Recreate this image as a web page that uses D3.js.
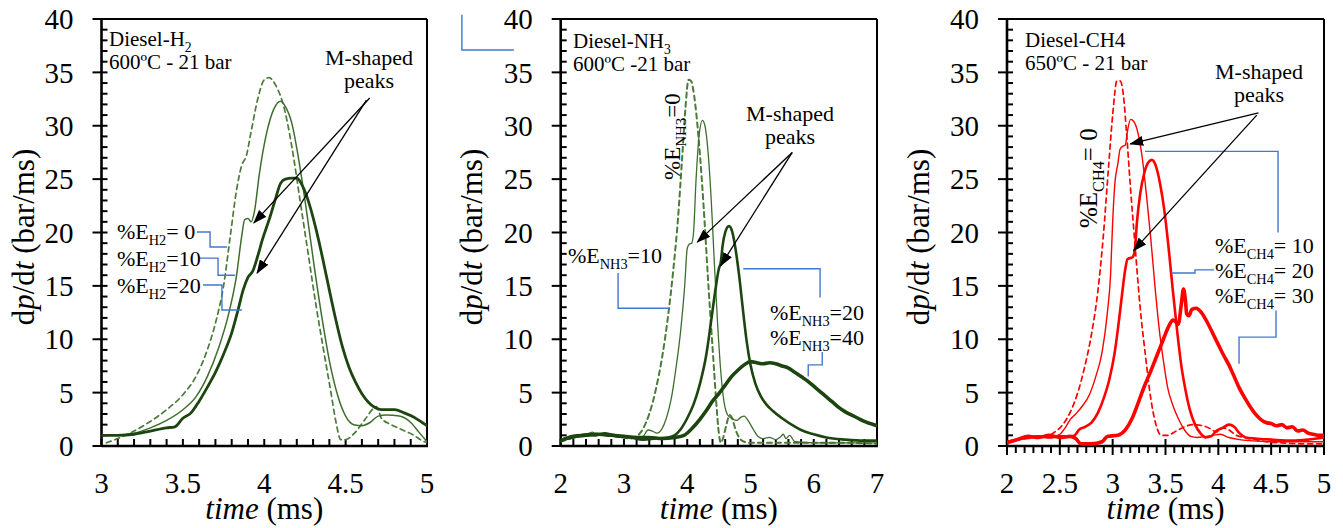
<!DOCTYPE html>
<html>
<head>
<meta charset="utf-8">
<script src="https://cdn.jsdelivr.net/npm/d3@7"></script>
<style>
  body { margin: 0; background: #fff; }
  svg { display: block; }
</style>
</head>
<body>
<svg id="chart" width="1343" height="528" font-family="Liberation Serif"></svg>
<script>
// ---------- axis ticks ----------
const yTicks = [0, 5, 10, 15, 20, 25, 30, 35, 40];
const h2Ticks = [3, 3.5, 4, 4.5, 5];
const nh3Ticks = [2, 3, 4, 5, 6, 7];
const ch4Ticks = [2, 2.5, 3, 3.5, 4, 4.5, 5];

// ---------- Diesel-H2, 600 ºC - 21 bar : [time (ms), dp/dt (bar/ms)] ----------
const h2E0 = [[3.03,0.3],[3.1,0.7],[3.2,1.4],[3.3,2.3],[3.4,3.4],[3.5,4.8],[3.58,6.5],[3.65,9.0],[3.7,11.5],[3.75,15],[3.79,19.5],[3.83,24],[3.86,26.2],[3.89,27.2],[3.92,29.5],[3.96,32.5],[4.0,34.3],[4.03,34.5],[4.07,33.8],[4.12,31.8],[4.17,28],[4.22,23],[4.27,18],[4.32,13],[4.37,8.5],[4.41,5],[4.44,2.3],[4.47,0.6],[4.5,0.6],[4.56,1.3],[4.62,2.5],[4.67,3.5],[4.69,3.7],[4.72,2.6],[4.78,2.0],[4.85,1.5],[4.92,1.0],[4.97,0.5],[5.0,0.3]];
const h2E10 = [[3.0,1.0],[3.1,1.0],[3.2,1.2],[3.3,1.7],[3.4,2.4],[3.5,3.4],[3.58,4.6],[3.65,6.5],[3.72,9.2],[3.78,12.3],[3.83,16],[3.86,19.5],[3.88,21.2],[3.9,21.3],[3.92,21.0],[3.94,22],[3.97,25.5],[4.01,29],[4.06,31.6],[4.1,32.3],[4.13,31.8],[4.17,30.2],[4.21,27],[4.26,22],[4.31,16.5],[4.36,11.5],[4.4,8],[4.45,4.8],[4.5,2.8],[4.55,2.0],[4.6,1.9],[4.65,2.2],[4.7,2.8],[4.75,2.9],[4.83,2.8],[4.9,2.2],[4.95,1.3],[5.0,0.4]];
const h2E20 = [[3.0,1.0],[3.1,1.0],[3.2,1.1],[3.3,1.4],[3.4,1.7],[3.45,1.8],[3.5,2.6],[3.55,3.1],[3.6,4.2],[3.65,5.5],[3.7,6.9],[3.75,8.6],[3.8,10.6],[3.84,12.8],[3.87,14.6],[3.9,15.8],[3.93,16.4],[3.96,17.8],[3.99,19.4],[4.03,21.2],[4.07,23.2],[4.1,24.6],[4.13,25.0],[4.17,25.1],[4.2,25.1],[4.24,24.2],[4.28,22.5],[4.32,20.2],[4.36,17.5],[4.4,14.6],[4.44,11.8],[4.48,9.3],[4.52,7.4],[4.56,6.0],[4.6,4.9],[4.64,4.1],[4.68,3.6],[4.72,3.4],[4.8,3.4],[4.86,3.1],[4.92,2.7],[4.97,2.2],[5.0,1.9]];

// ---------- Diesel-NH3, 600 ºC - 21 bar ----------
const nh3E0 = [[2.0,0.4],[2.15,0.7],[2.3,0.9],[2.5,1.2],[2.7,1.0],[2.9,0.9],[3.1,0.7],[3.2,0.9],[3.3,1.6],[3.4,3.0],[3.5,5.2],[3.6,8.2],[3.7,12.3],[3.78,16.5],[3.85,21],[3.92,27],[3.97,31.5],[4.02,34.3],[4.06,34.2],[4.11,32.8],[4.17,29.5],[4.23,25],[4.28,20.5],[4.33,15.5],[4.38,11],[4.42,7.5],[4.46,4],[4.5,1.2],[4.53,0.3],[4.57,0.8],[4.62,2.0],[4.67,2.9],[4.71,2.6],[4.76,1.6],[4.82,0.8],[4.9,0.4],[5.0,0.3],[5.5,0.3],[6.0,0.3],[6.5,0.3],[7.0,0.2]];
const nh3E10 = [[2.0,0.5],[2.1,0.7],[2.25,0.9],[2.4,1.0],[2.5,1.3],[2.6,1.0],[2.8,1.1],[3.0,0.9],[3.2,0.8],[3.3,0.9],[3.38,1.5],[3.45,1.4],[3.52,1.2],[3.6,1.6],[3.67,2.6],[3.75,4.5],[3.82,7.2],[3.9,11],[3.96,15],[4.0,18.5],[4.03,18.9],[4.07,19.0],[4.1,20],[4.14,25],[4.19,29.2],[4.24,30.5],[4.28,30.0],[4.33,27.5],[4.38,23],[4.43,17],[4.48,11.5],[4.53,7],[4.58,4.2],[4.64,2.9],[4.7,2.6],[4.78,2.4],[4.85,2.7],[4.9,2.8],[4.97,2.3],[5.05,1.5],[5.12,0.9],[5.2,0.7],[5.3,0.8],[5.4,0.6],[5.48,0.9],[5.52,1.1],[5.56,0.7],[5.62,1.0],[5.7,0.4],[6.0,0.3],[6.5,0.3],[7.0,0.3]];
const nh3E20 = [[2.0,0.6],[2.2,0.8],[2.4,1.1],[2.55,1.0],[2.7,1.2],[2.9,0.9],[3.1,0.8],[3.3,0.6],[3.5,0.7],[3.7,0.8],[3.8,1.0],[3.9,1.6],[4.0,2.6],[4.1,3.9],[4.2,5.8],[4.3,8.5],[4.38,11.8],[4.45,14.8],[4.5,16.6],[4.53,17.2],[4.56,18.8],[4.6,20],[4.66,20.6],[4.71,20.1],[4.76,18.6],[4.82,16],[4.88,12.8],[4.94,9.8],[5.0,7.6],[5.08,5.8],[5.16,4.7],[5.25,3.9],[5.35,3.3],[5.5,2.6],[5.65,2.0],[5.8,1.5],[6.0,1.1],[6.2,0.8],[6.5,0.6],[6.8,0.5],[7.0,0.5]];
const nh3E40 = [[2.0,0.5],[2.2,0.9],[2.4,1.0],[2.6,1.1],[2.8,1.0],[3.0,0.9],[3.2,0.8],[3.4,0.8],[3.6,0.7],[3.8,0.8],[3.95,1.0],[4.1,1.8],[4.2,2.5],[4.3,3.3],[4.4,4.2],[4.5,4.9],[4.6,5.7],[4.7,6.5],[4.8,7.1],[4.9,7.6],[5.0,7.9],[5.1,7.8],[5.2,7.7],[5.3,7.8],[5.4,7.7],[5.5,7.5],[5.6,7.3],[5.7,6.9],[5.8,6.5],[5.9,6.1],[6.0,5.6],[6.1,5.1],[6.2,4.6],[6.3,4.1],[6.4,3.6],[6.5,3.2],[6.6,2.9],[6.7,2.6],[6.8,2.3],[6.9,2.1],[7.0,1.9]];

// ---------- Diesel-CH4, 650 ºC - 21 bar ----------
const ch4E0 = [[2.0,0.3],[2.1,0.6],[2.2,0.7],[2.3,0.9],[2.4,1.0],[2.45,1.3],[2.52,1.9],[2.6,3.2],[2.67,5],[2.73,7.2],[2.8,10.5],[2.86,14.5],[2.91,19.5],[2.96,26],[3.0,31],[3.04,34.2],[3.07,34.2],[3.1,33],[3.13,29.5],[3.17,24],[3.21,19],[3.26,13],[3.31,8.5],[3.36,4.5],[3.41,2],[3.46,1.0],[3.52,1.0],[3.6,1.4],[3.68,1.8],[3.76,2.0],[3.85,1.9],[3.93,1.6],[3.98,1.3],[4.04,1.7],[4.1,1.5],[4.17,1.0],[4.25,0.8],[4.35,0.6],[4.45,0.4],[4.6,0.3],[4.8,0.2],[5.0,0.2]];
const ch4E10 = [[2.0,0.4],[2.1,0.6],[2.2,0.8],[2.3,0.9],[2.4,0.8],[2.5,1.1],[2.55,1.7],[2.6,2.5],[2.65,3.0],[2.71,3.7],[2.78,4.8],[2.84,6.5],[2.9,8.8],[2.95,12.5],[2.98,16],[3.0,21],[3.02,24.5],[3.05,26.5],[3.07,27.8],[3.1,28.1],[3.12,28.2],[3.14,29.5],[3.17,30.6],[3.2,30.4],[3.24,29.3],[3.28,27],[3.32,23.5],[3.36,19.5],[3.4,15],[3.44,11],[3.48,8],[3.52,5.5],[3.57,3.8],[3.62,2.6],[3.68,1.5],[3.74,0.9],[3.8,0.8],[3.88,0.9],[3.95,1.0],[4.02,1.1],[4.1,0.8],[4.2,0.6],[4.3,0.5],[4.5,0.4],[4.7,0.4],[5.0,0.4]];
const ch4E20 = [[2.0,0.4],[2.1,0.6],[2.2,0.8],[2.3,0.9],[2.4,0.8],[2.5,0.9],[2.6,0.9],[2.64,1.0],[2.68,1.5],[2.74,1.8],[2.8,2.2],[2.86,3.1],[2.92,4.6],[2.97,6.3],[3.02,8.8],[3.06,11.8],[3.09,14.3],[3.12,16.6],[3.14,17.5],[3.19,17.7],[3.21,18.4],[3.23,21],[3.26,23.6],[3.3,25.6],[3.34,26.6],[3.37,26.8],[3.41,26.2],[3.45,24.5],[3.49,22],[3.53,18.5],[3.57,14.5],[3.61,10.8],[3.65,7.5],[3.69,5.2],[3.73,3.4],[3.78,2.0],[3.83,1.2],[3.88,0.8],[3.93,0.9],[3.98,1.4],[4.04,1.7],[4.1,2.0],[4.15,1.8],[4.2,1.2],[4.26,0.8],[4.35,0.7],[4.5,0.6],[4.7,0.5],[4.85,0.6],[5.0,0.8]];
const ch4E30 = [[2.0,0.3],[2.1,0.6],[2.2,0.9],[2.3,0.8],[2.4,1.0],[2.5,0.8],[2.6,0.9],[2.65,0.7],[2.7,0.2],[2.8,0.2],[2.9,0.4],[2.95,0.9],[3.05,1.0],[3.12,1.5],[3.18,2.5],[3.24,4.0],[3.3,5.6],[3.36,7.0],[3.42,8.5],[3.48,10],[3.53,11.2],[3.57,11.8],[3.6,11.6],[3.62,11.4],[3.65,13.3],[3.67,14.7],[3.69,13.5],[3.7,12.4],[3.72,12.2],[3.75,12.8],[3.79,12.9],[3.84,12.5],[3.9,11.5],[3.95,10.5],[4.0,9.5],[4.05,8.5],[4.1,7.6],[4.15,6.5],[4.2,5.4],[4.25,4.5],[4.3,3.7],[4.35,3.0],[4.4,2.5],[4.45,2.2],[4.5,2.1],[4.55,1.9],[4.6,2.0],[4.65,1.7],[4.7,1.8],[4.75,1.4],[4.8,1.5],[4.85,1.2],[4.9,1.1],[4.95,1.0],[5.0,1.0]];

// ---------- layout & drawing ----------
const svg = d3.select("#chart");
const FONT = "Liberation Serif";
const Y_TOP = 19, Y_BOT = 446;
const GREEN_LIGHT = "#4b7a3a", GREEN = "#3f6d2e", GREEN_DARK = "#1c4510", RED = "#ff0000", BLUE = "#3f78d0";

const defs = svg.append("defs");
defs.append("marker").attr("id", "arrow")
  .attr("markerUnits", "userSpaceOnUse").attr("markerWidth", 14).attr("markerHeight", 10)
  .attr("refX", 13).attr("refY", 5).attr("orient", "auto")
  .append("path").attr("d", "M0,0 L14,5 L0,10 Z").attr("fill", "#000");

// text with optional subscript / italic parts: parts = [[text, kind]]
function richText(g, x, y, parts, size, opts = {}) {
  const t = g.append("text").attr("x", x).attr("y", y).attr("font-size", size)
    .attr("font-family", FONT).attr("fill", "#000")
    .attr("text-anchor", opts.anchor || "start");
  if (opts.rotate) t.attr("transform", `rotate(-90 ${x} ${y})`);
  let shift = 0;
  parts.forEach(([s, kind]) => {
    const sp = t.append("tspan").text(s);
    if (kind === "sub") {
      const d = size * 0.28;
      sp.attr("font-size", size * 0.65).attr("dy", d - shift);
      shift = d;
    } else {
      if (shift) { sp.attr("dy", -shift); shift = 0; }
      if (kind === "i") sp.attr("font-style", "italic");
    }
  });
  return t;
}

function drawPanel(p) {
  const x = d3.scaleLinear().domain(p.xDomain).range([p.left, p.right]);
  const y = d3.scaleLinear().domain([0, 40]).range([Y_BOT, Y_TOP]);
  const g = svg.append("g");

  // frame
  g.append("line").attr("x1", p.left).attr("x2", p.right).attr("y1", Y_TOP).attr("y2", Y_TOP).attr("stroke", "#000").attr("stroke-width", 2);
  g.append("line").attr("x1", p.right).attr("x2", p.right).attr("y1", Y_TOP).attr("y2", Y_BOT).attr("stroke", "#000").attr("stroke-width", 2);
  g.append("line").attr("x1", p.left).attr("x2", p.left).attr("y1", Y_TOP - 1).attr("y2", Y_BOT + 1).attr("stroke", "#000").attr("stroke-width", 2.6);
  g.append("line").attr("x1", p.left).attr("x2", p.right + 1).attr("y1", Y_BOT).attr("y2", Y_BOT).attr("stroke", "#000").attr("stroke-width", 2.6);

  // y ticks: minor every 1 (inside), major every 5 (crossing)
  d3.range(0, 41, 1).forEach(v => {
    const major = v % 5 === 0;
    g.append("line").attr("x1", major ? p.left - 9 : p.left).attr("x2", p.left + 6)
      .attr("y1", y(v)).attr("y2", y(v)).attr("stroke", "#000").attr("stroke-width", 2);
  });
  g.selectAll(".ylab").data(yTicks).enter().append("text")
    .attr("x", p.left - 28).attr("y", d => y(d)).attr("dy", "0.35em")
    .attr("font-family", FONT).attr("text-anchor", "end").attr("font-size", 29).text(d => d);

  // x ticks
  const nMinor = Math.round((p.xDomain[1] - p.xDomain[0]) / p.xMinor);
  d3.range(0, nMinor + 1).forEach(i => {
    const t = p.xDomain[0] + i * p.xMinor;
    const isMajor = p.xTicks.some(m => Math.abs(m - t) < 1e-6);
    let y1, y2;
    if (p.ticksOut) { y1 = isMajor ? Y_BOT - 7 : Y_BOT; y2 = Y_BOT + (isMajor ? 9 : 7); }
    else { y1 = Y_BOT; y2 = Y_BOT - 7; }
    g.append("line").attr("x1", x(t)).attr("x2", x(t)).attr("y1", y1).attr("y2", y2)
      .attr("stroke", "#000").attr("stroke-width", 2);
  });
  g.selectAll(".xlab").data(p.xTicks).enter().append("text")
    .attr("x", d => x(d)).attr("y", 493).attr("font-family", FONT)
    .attr("text-anchor", "middle").attr("font-size", 29).text(d => d);

  // axis titles
  richText(g, (p.left + p.right) / 2, 519, [["time", "i"], [" (ms)", ""]], 31, { anchor: "middle" });
  richText(g, p.yTitleX, 237, [["d", ""], ["p", "i"], ["/d", ""], ["t", "i"], [" (bar/ms)", ""]], 31, { anchor: "middle", rotate: true });

  // curves
  const clipId = "clip-" + p.id;
  defs.append("clipPath").attr("id", clipId).append("rect")
    .attr("x", p.left).attr("y", Y_TOP).attr("width", p.right - p.left).attr("height", Y_BOT - Y_TOP + 2);
  const line = d3.line().x(d => x(d[0])).y(d => y(d[1])).curve(d3.curveMonotoneX);
  p.series.forEach(s => {
    g.append("path").attr("clip-path", `url(#${clipId})`).attr("d", line(s.data))
      .attr("fill", "none").attr("stroke", s.color).attr("stroke-width", s.w)
      .attr("stroke-dasharray", s.dash || null).attr("stroke-linejoin", "round").attr("stroke-linecap", "round");
  });

  // blue leader lines
  const lead = d3.line().x(d => x(d[0])).y(d => y(d[1]));
  p.leaders.forEach(l => g.append("path").attr("d", lead(l)).attr("fill", "none").attr("stroke", BLUE).attr("stroke-width", 1.4));

  // arrows to the M-shaped peaks
  p.arrows.forEach(a => g.append("line")
    .attr("x1", x(a[0][0])).attr("y1", y(a[0][1])).attr("x2", x(a[1][0])).attr("y2", y(a[1][1]))
    .attr("stroke", "#000").attr("stroke-width", 1.3).attr("marker-end", "url(#arrow)"));

  // annotation texts
  richText(g, p.titlePos[0], p.titlePos[1], p.title, 21);
  richText(g, p.titlePos[0], p.titlePos[1] + 23, [[p.cond, ""]], 21);
  richText(g, p.mPos[0], p.mPos[1], [["M-shaped", ""]], 22, { anchor: "middle" });
  richText(g, p.mPos[0], p.mPos[1] + 23, [["peaks", ""]], 22, { anchor: "middle" });
  p.labels.forEach(l => richText(g, l.x, l.y, l.parts, l.size || 22, { rotate: l.rotate }));
}

drawPanel({
  id: "h2", left: 101.5, right: 427, xDomain: [3, 5], xTicks: h2Ticks, xMinor: 0.1, ticksOut: false, yTitleX: 34,
  series: [
    { data: h2E0, color: GREEN_LIGHT, w: 1.7, dash: "5,4" },
    { data: h2E10, color: GREEN, w: 1.5 },
    { data: h2E20, color: GREEN_DARK, w: 2.8 }
  ],
  leaders: [
    [[3.587, 20.05], [3.667, 20.05], [3.667, 18.64], [3.771, 18.64]],
    [[3.605, 17.6], [3.716, 17.6], [3.716, 16.0], [3.82, 16.0]],
    [[3.624, 15.08], [3.74, 15.08], [3.74, 12.74], [3.863, 12.74]]
  ],
  arrows: [[[4.648, 32.6], [3.936, 20.9]], [[4.628, 32.4], [3.956, 16.2]]],
  title: [["Diesel-H", ""], ["2", "sub"]], cond: "600ºC - 21 bar", titlePos: [109, 46],
  mPos: [369, 65],
  labels: [
    { x: 117, y: 239, parts: [["%E", ""], ["H2", "sub"], ["= 0", ""]] },
    { x: 117, y: 266, parts: [["%E", ""], ["H2", "sub"], ["=10", ""]] },
    { x: 117, y: 293, parts: [["%E", ""], ["H2", "sub"], ["=20", ""]] }
  ]
});

drawPanel({
  id: "nh3", left: 560.7, right: 877, xDomain: [2, 7], xTicks: nh3Ticks, xMinor: 0.2, ticksOut: false, yTitleX: 482,
  series: [
    { data: nh3E0, color: GREEN_LIGHT, w: 2, dash: "5,4" },
    { data: nh3E10, color: GREEN, w: 1.3 },
    { data: nh3E20, color: GREEN_DARK, w: 2.6 },
    { data: nh3E40, color: GREEN_DARK, w: 3.6 }
  ],
  leaders: [
    [[0.438, 40.4], [0.438, 37.1], [1.26, 37.1]],
    [[2.907, 16.2], [2.907, 12.9], [3.73, 12.9]],
    [[4.886, 16.6], [6.10, 16.6], [6.10, 13.9]],
    [[6.134, 8.8], [6.134, 7.6], [5.913, 7.6], [5.913, 6.5]]
  ],
  arrows: [[[5.66, 27.5], [4.16, 19.1]], [[5.66, 27.5], [4.53, 16.9]]],
  title: [["Diesel-NH", ""], ["3", "sub"]], cond: "600ºC -21 bar", titlePos: [573, 48],
  mPos: [790, 121],
  labels: [
    { x: 680, y: 180, size: 23, rotate: true, parts: [["%E", ""], ["NH3", "sub"], ["=0", ""]] },
    { x: 568, y: 263, parts: [["%E", ""], ["NH3", "sub"], ["=10", ""]] },
    { x: 770, y: 320, parts: [["%E", ""], ["NH3", "sub"], ["=20", ""]] },
    { x: 770, y: 345, parts: [["%E", ""], ["NH3", "sub"], ["=40", ""]] }
  ]
});

drawPanel({
  id: "ch4", left: 1007, right: 1324, xDomain: [2, 5], xTicks: ch4Ticks, xMinor: 0.5 / 6, ticksOut: true, yTitleX: 929,
  series: [
    { data: ch4E0, color: RED, w: 1.7, dash: "5,4" },
    { data: ch4E10, color: RED, w: 1.4 },
    { data: ch4E20, color: RED, w: 2.6 },
    { data: ch4E30, color: RED, w: 3.6 }
  ],
  leaders: [
    [[3.306, 27.6], [4.565, 27.6], [4.565, 20.0]],
    [[3.552, 16.2], [3.779, 16.2], [3.779, 16.5], [3.959, 16.5]],
    [[4.546, 12.7], [4.546, 10.2], [4.196, 10.2], [4.196, 7.7]]
  ],
  arrows: [[[4.38, 31.2], [3.166, 28.3]], [[4.364, 31.0], [3.198, 18.3]]],
  title: [["Diesel-CH4", ""]], cond: "650ºC - 21 bar", titlePos: [1025, 47],
  mPos: [1259, 79],
  labels: [
    { x: 1097, y: 228, size: 25, rotate: true, parts: [["%E", ""], ["CH4", "sub"], ["= 0", ""]] },
    { x: 1215, y: 253, parts: [["%E", ""], ["CH4", "sub"], ["= 10", ""]] },
    { x: 1215, y: 278, parts: [["%E", ""], ["CH4", "sub"], ["= 20", ""]] },
    { x: 1215, y: 303, parts: [["%E", ""], ["CH4", "sub"], ["= 30", ""]] }
  ]
});
</script>
</body>
</html>
